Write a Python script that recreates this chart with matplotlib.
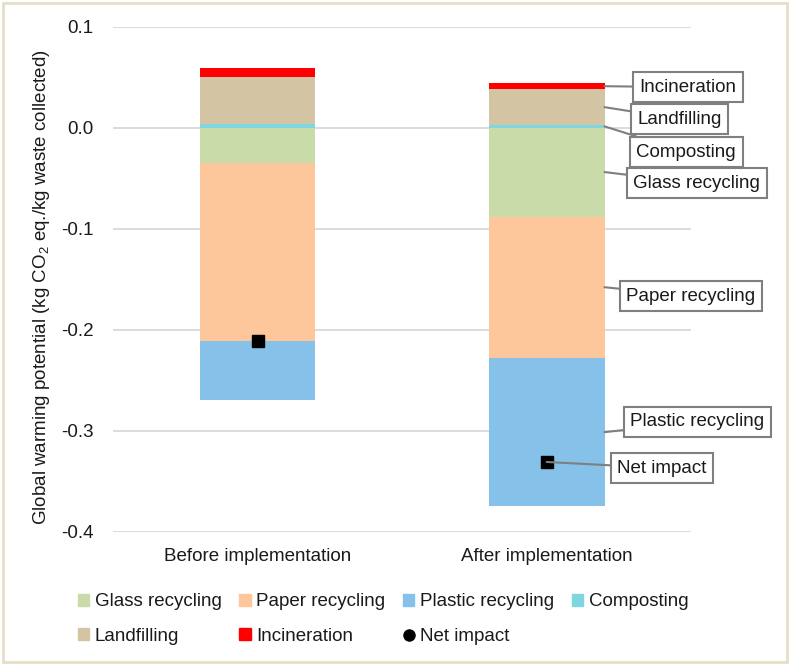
import numpy as np
import matplotlib
matplotlib.use("Agg")
import matplotlib.pyplot as plt
from matplotlib.patches import Rectangle
from matplotlib.lines import Line2D

plt.rcParams["font.family"] = ["Liberation Sans", "DejaVu Sans"]
plt.rcParams["mathtext.fontset"] = "custom"
plt.rcParams["mathtext.rm"] = "Liberation Sans"
plt.rcParams["mathtext.it"] = "Liberation Sans"

categories = ["Before implementation", "After implementation"]
glass = [-0.035, -0.088]
paper = [-0.176, -0.140]
plastic = [-0.059, -0.147]
composting = [0.004, 0.0025]
landfilling = [0.046, 0.0355]
incineration = [0.009, 0.006]
net_impact = [-0.211, -0.331]

col = {"Glass recycling": "#c9dba9", "Paper recycling": "#fdc69b",
       "Plastic recycling": "#85c1e9", "Composting": "#80d6e0",
       "Landfilling": "#d3c5a3", "Incineration": "#ff0000"}
FS = 13.5
txt = "#1a1a1a"

fig = plt.figure(figsize=(7.9, 6.65), dpi=100)
ax = fig.add_axes([0.143, 0.2005, 0.732, 0.7595])
x = np.arange(len(categories))
w = 0.4

# negatives stacked downward, positives upward
ax.bar(x, glass, w, color=col["Glass recycling"], zorder=2)
ax.bar(x, paper, w, bottom=glass, color=col["Paper recycling"], zorder=2)
neg2 = np.array(glass) + np.array(paper)
ax.bar(x, plastic, w, bottom=neg2, color=col["Plastic recycling"], zorder=2)
ax.bar(x, composting, w, color=col["Composting"], zorder=2)
ax.bar(x, landfilling, w, bottom=composting, color=col["Landfilling"], zorder=2)
pos2 = np.array(composting) + np.array(landfilling)
ax.bar(x, incineration, w, bottom=pos2, color=col["Incineration"], zorder=2)
ax.plot(x, net_impact, "s", color="black", ms=8, zorder=4)

ax.set_xlim(-0.5, 1.5)
ax.set_ylim(-0.4, 0.1)
ax.set_yticks([0.1, 0.0, -0.1, -0.2, -0.3, -0.4])
ax.set_yticklabels(["0.1", "0.0", "-0.1", "-0.2", "-0.3", "-0.4"])
ax.set_xticks(x)
ax.set_xticklabels(categories)
ax.tick_params(axis="both", length=0, labelsize=FS, colors=txt)
ax.tick_params(axis="y", pad=14)
ax.tick_params(axis="x", pad=12)
for s in ax.spines.values():
    s.set_visible(False)
ax.yaxis.grid(True, color="#d9d9d9", lw=1.3, zorder=0)
ax.set_axisbelow(True)

fig.text(0.052, 0.568, "Global warming potential (kg CO$_2$ eq./kg waste collected)",
         rotation=90, ha="center", va="center", fontsize=FS, color=txt)

box = dict(boxstyle="square,pad=0.35", fc="white", ec="#7f7f7f", lw=1.5)
leader = dict(arrowstyle="-", color="#7f7f7f", lw=1.5, shrinkA=0, shrinkB=0)

# callout labels on the second bar
i = 1
edge = x[i] + w / 2
seg = {
    "Incineration": (pos2[i] + incineration[i] / 2, 1.32, 0.040),
    "Landfilling": (composting[i] + landfilling[i] / 2, 1.313, 0.0085),
    "Composting": (composting[i] / 2, 1.31, -0.0242),
    "Glass recycling": (glass[i] / 2, 1.30, -0.055),
    "Paper recycling": (glass[i] + paper[i] / 2, 1.275, -0.1667),
    "Plastic recycling": (neg2[i] + plastic[i] / 2, 1.289, -0.2914),
}
for name, (ymid, tx, ty) in seg.items():
    ax.annotate(name, xy=(edge, ymid), xytext=(tx, ty), textcoords="data",
                ha="left", va="center", fontsize=FS, color=txt,
                annotation_clip=False, bbox=box, arrowprops=leader, zorder=5)
ax.annotate("Net impact", xy=(x[i], net_impact[i]), xytext=(1.244, -0.337),
            textcoords="data", ha="left", va="center", fontsize=FS, color=txt,
            annotation_clip=False, bbox=box, arrowprops=leader, zorder=5)

handles = [Rectangle((0, 0), 1, 1, color=col[k]) for k in
           ["Glass recycling", "Paper recycling", "Plastic recycling", "Composting",
            "Landfilling", "Incineration"]]
handles.append(Line2D([], [], marker="o", ls="", color="black", ms=8))
labels = ["Glass recycling", "Paper recycling", "Plastic recycling", "Composting",
          "Landfilling", "Incineration", "Net impact"]
# reorder so rows fill like the original (column-major in matplotlib)
order = [0, 4, 1, 5, 2, 6, 3]
fig.legend([handles[j] for j in order], [labels[j] for j in order],
           loc="center", bbox_to_anchor=(0.485, 0.069), ncol=4, frameon=False,
           fontsize=FS, handlelength=0.6, handleheight=0.6, handletextpad=0.3,
           columnspacing=0.95, labelspacing=0.95, labelcolor=txt)

fig.patches.append(Rectangle((0.004, 0.005), 0.992, 0.99, transform=fig.transFigure,
                             fill=False, ec="#e6dfc8", lw=2))

fig.savefig("out.png", dpi=100)
